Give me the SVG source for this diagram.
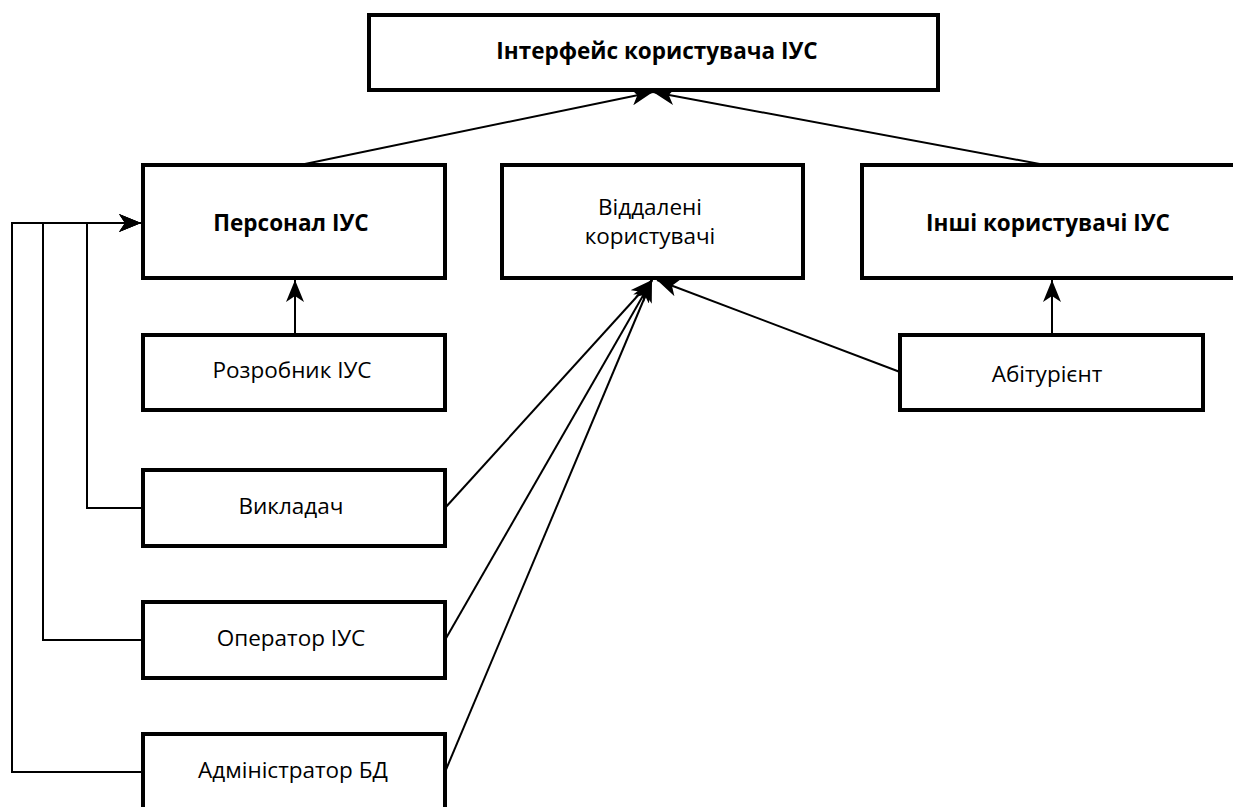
<svg xmlns="http://www.w3.org/2000/svg" width="1233" height="807" viewBox="0 0 1233 807">
<defs>
<marker id="arr" viewBox="0 0 22 18" refX="22" refY="9" markerWidth="22" markerHeight="18" markerUnits="userSpaceOnUse" orient="auto">
<path d="M0,0 L22,9 L0,18 L6,9 z" fill="#000"/>
</marker>
<style>
.box{fill:#fff;stroke:#000;stroke-width:4}
.t{font-family:"Open Sans","Noto Sans",sans-serif;font-size:22.5px;fill:#000;text-anchor:middle}
.b{font-weight:bold}
.c{fill:none;stroke:#000;stroke-width:2}
</style>
</defs>
<rect width="1233" height="807" fill="#fff"/>
<g id="connectors">
<path class="c" d="M300,165 L653,92" marker-end="url(#arr)"/>
<path class="c" d="M1045,165 L653,92" marker-end="url(#arr)"/>
<path class="c" d="M295,335 V280" marker-end="url(#arr)"/>
<path class="c" d="M1052,335 V280" marker-end="url(#arr)"/>
<path class="c" d="M143,508 H87 V223 H141" marker-end="url(#arr)"/>
<path class="c" d="M143,640 H43 V223 H141" marker-end="url(#arr)"/>
<path class="c" d="M143,772 H12 V223 H141" marker-end="url(#arr)"/>
<path class="c" d="M445,508 L652,280" marker-end="url(#arr)"/>
<path class="c" d="M445,640 L652,280" marker-end="url(#arr)"/>
<path class="c" d="M445,772 L652,280" marker-end="url(#arr)"/>
<path class="c" d="M900,372 L657,280" marker-end="url(#arr)"/>
</g>
<g id="interface">
<rect class="box" x="369" y="15" width="569" height="75"/>
<text class="t b" x="657" y="59">Інтерфейс користувача ІУС</text>
</g>
<g id="personal">
<rect class="box" x="143" y="165" width="302" height="113"/>
<text class="t b" x="291" y="231">Персонал ІУС</text>
</g>
<g id="remote">
<rect class="box" x="502" y="165" width="301" height="113"/>
<text class="t" x="650" y="215">Віддалені</text>
<text class="t" x="650" y="244">користувачі</text>
</g>
<g id="others">
<rect class="box" x="862" y="165" width="374" height="113"/>
<text class="t b" x="1048" y="231">Інші користувачі ІУС</text>
</g>
<g id="developer">
<rect class="box" x="143" y="335" width="302" height="75"/>
<text class="t" x="292" y="378">Розробник ІУС</text>
</g>
<g id="applicant">
<rect class="box" x="900" y="335" width="303" height="75"/>
<text class="t" x="1047" y="382">Абітурієнт</text>
</g>
<g id="teacher">
<rect class="box" x="143" y="470" width="302" height="76"/>
<text class="t" x="291" y="514">Викладач</text>
</g>
<g id="operator">
<rect class="box" x="143" y="602" width="302" height="76"/>
<text class="t" x="291" y="646">Оператор ІУС</text>
</g>
<g id="admin">
<rect class="box" x="143" y="734" width="302" height="80"/>
<text class="t" x="293" y="778">Адміністратор БД</text>
</g>
</svg>
